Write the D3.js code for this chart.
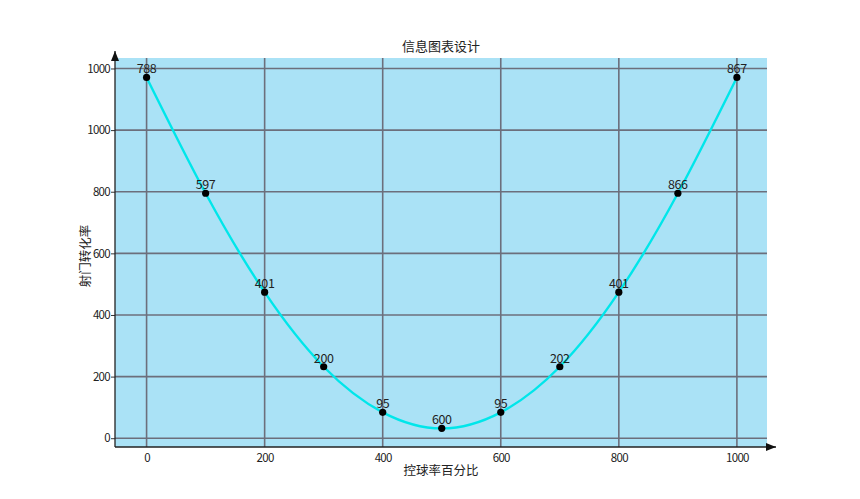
<!DOCTYPE html>
<html>
<head>
<meta charset="utf-8">
<script src="https://cdn.jsdelivr.net/npm/d3@7"></script>
<style>
  body { margin: 0; background: #fff; }
  text { font-family: "Noto Sans CJK SC", "Noto Sans", sans-serif; fill: #222; }
</style>
</head>
<body>
<script>
// data
var xValues = [0, 100, 200, 300, 400, 500, 600, 700, 800, 900, 1000];
var yValues = [1171, 795, 474, 232, 84, 32, 84, 232, 474, 795, 1171];
var pointLabels = ['788', '597', '401', '200', '95', '600', '95', '202', '401', '866', '867'];
var xTicks = [0, 200, 400, 600, 800, 1000];
var yTicks = [0, 200, 400, 600, 800, 1000, 1200];
var yTickLabels = ['0', '200', '400', '600', '800', '1000', '1000'];

var W = 860, H = 499;
var plotL = 115, plotR = 767, plotT = 58, plotB = 447;

var svg = d3.select('body').append('svg')
    .attr('width', W)
    .attr('height', H);

var x = d3.scaleLinear().domain([-53.5, 1051]).range([plotL, plotR]);
var y = d3.scaleLinear().domain([-28.5, 1234]).range([plotB, plotT]);

// plot background
svg.append('rect')
    .attr('x', plotL).attr('y', plotT)
    .attr('width', plotR - plotL).attr('height', plotB - plotT)
    .attr('fill', '#aae2f6');

// grid
svg.append('g').selectAll('line')
    .data(yTicks).enter().append('line')
    .attr('x1', plotL).attr('x2', plotR)
    .attr('y1', function (d) { return y(d); })
    .attr('y2', function (d) { return y(d); })
    .attr('stroke', '#6c6f7c').attr('stroke-width', 1.6);

svg.append('g').selectAll('line')
    .data(xTicks).enter().append('line')
    .attr('y1', plotT).attr('y2', plotB)
    .attr('x1', function (d) { return x(d); })
    .attr('x2', function (d) { return x(d); })
    .attr('stroke', '#6c6f7c').attr('stroke-width', 1.6);

// axes
var xAxis = svg.append('g')
    .attr('transform', 'translate(0,' + plotB + ')')
    .call(d3.axisBottom(x).tickValues(xTicks).tickSize(0).tickPadding(7)
        .tickFormat(d3.format('d')));
var yAxis = svg.append('g')
    .attr('transform', 'translate(' + plotL + ',0)')
    .call(d3.axisLeft(y).tickValues(yTicks).tickSize(4).tickPadding(1)
        .tickFormat(function (d, i) { return yTickLabels[i]; }));

[xAxis, yAxis].forEach(function (g) {
    g.select('.domain').remove();
    g.selectAll('text')
        .style('font-size', '11.5px')
        .style('letter-spacing', '-0.7px')
        .attr('fill', '#222');
    g.selectAll('line').attr('stroke', '#333');
});

svg.append('defs').append('marker')
    .attr('id', 'arrow')
    .attr('viewBox', '0 0 10 10')
    .attr('refX', 10).attr('refY', 5)
    .attr('markerWidth', 8).attr('markerHeight', 8)
    .attr('orient', 'auto')
    .append('path')
    .attr('d', 'M0,1 L10,5 L0,9 Z')
    .attr('fill', '#111');

svg.append('line')
    .attr('x1', plotL).attr('x2', plotL)
    .attr('y1', plotB).attr('y2', 51)
    .attr('stroke', '#222').attr('stroke-width', 1.3)
    .attr('marker-end', 'url(#arrow)');
svg.append('line')
    .attr('x1', plotL).attr('x2', 776)
    .attr('y1', plotB).attr('y2', plotB)
    .attr('stroke', '#222').attr('stroke-width', 1.3)
    .attr('marker-end', 'url(#arrow)');

var data = xValues.map(function (d, i) {
    return { x: d, y: yValues[i], label: pointLabels[i] };
});

// curve
var line = d3.line()
    .x(function (d) { return x(d.x); })
    .y(function (d) { return y(d.y); })
    .curve(d3.curveNatural);

svg.append('path')
    .datum(data)
    .attr('d', line)
    .attr('fill', 'none')
    .attr('stroke', '#00e6ea')
    .attr('stroke-width', 2.4);

// points
svg.append('g').selectAll('circle')
    .data(data).enter().append('circle')
    .attr('cx', function (d) { return x(d.x); })
    .attr('cy', function (d) { return y(d.y); })
    .attr('r', 3.6)
    .attr('fill', '#000');

svg.append('g').selectAll('text')
    .data(data).enter().append('text')
    .attr('x', function (d) { return x(d.x); })
    .attr('y', function (d) { return y(d.y) - 4; })
    .attr('text-anchor', 'middle')
    .style('font-size', '12.5px')
    .style('letter-spacing', '-0.4px')
    .text(function (d) { return d.label; });

// titles
svg.append('text')
    .attr('x', (plotL + plotR) / 2).attr('y', 51)
    .attr('text-anchor', 'middle')
    .style('font-size', '13px')
    .text('信息图表设计');

svg.append('text')
    .attr('x', (plotL + plotR) / 2).attr('y', 475)
    .attr('text-anchor', 'middle')
    .style('font-size', '12.5px')
    .text('控球率百分比');

svg.append('text')
    .attr('transform', 'translate(84,256) rotate(-90)')
    .attr('text-anchor', 'middle')
    .attr('dominant-baseline', 'central')
    .style('font-size', '12.5px')
    .text('射门转化率');
</script>
</body>
</html>
